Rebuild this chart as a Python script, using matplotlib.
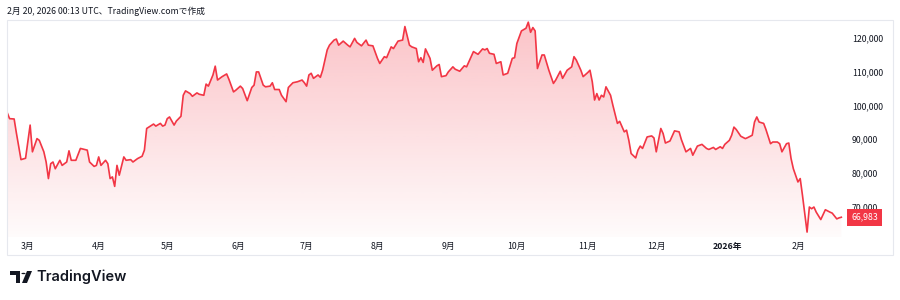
import numpy as np
import pandas as pd
import matplotlib
matplotlib.use('Agg')
import matplotlib.pyplot as plt
import matplotlib.dates as mdates
from matplotlib.patches import Rectangle, Circle, Polygon
from matplotlib.transforms import blended_transform_factory

plt.rcParams['font.family'] = ['Noto Sans CJK JP', 'DejaVu Sans']

# BTC/USD daily closes (USD)
dates = [
    '2025-02-20', '2025-02-21', '2025-02-23', '2025-02-24', '2025-02-26', '2025-02-28',
    '2025-03-02', '2025-03-03', '2025-03-05', '2025-03-06', '2025-03-08', '2025-03-09',
    '2025-03-10', '2025-03-11', '2025-03-12', '2025-03-13', '2025-03-15', '2025-03-16',
    '2025-03-18', '2025-03-19', '2025-03-20', '2025-03-22', '2025-03-24', '2025-03-27',
    '2025-03-28', '2025-03-30', '2025-03-31', '2025-04-01', '2025-04-02', '2025-04-04',
    '2025-04-05', '2025-04-06', '2025-04-07', '2025-04-08', '2025-04-09', '2025-04-10',
    '2025-04-12', '2025-04-13', '2025-04-15', '2025-04-16', '2025-04-18', '2025-04-20',
    '2025-04-21', '2025-04-22', '2025-04-25', '2025-04-26', '2025-04-28', '2025-04-29',
    '2025-04-30', '2025-05-01', '2025-05-02', '2025-05-04', '2025-05-05', '2025-05-07',
    '2025-05-08', '2025-05-09', '2025-05-11', '2025-05-12', '2025-05-14', '2025-05-15',
    '2025-05-17', '2025-05-18', '2025-05-19', '2025-05-21', '2025-05-22', '2025-05-23',
    '2025-05-25', '2025-05-27', '2025-05-28', '2025-05-30', '2025-05-31', '2025-06-02',
    '2025-06-03', '2025-06-05', '2025-06-07', '2025-06-08', '2025-06-09', '2025-06-10',
    '2025-06-12', '2025-06-13', '2025-06-15', '2025-06-16', '2025-06-17', '2025-06-19',
    '2025-06-20', '2025-06-22', '2025-06-23', '2025-06-25', '2025-06-27', '2025-06-29',
    '2025-06-30', '2025-07-01', '2025-07-02', '2025-07-03', '2025-07-04', '2025-07-06',
    '2025-07-07', '2025-07-08', '2025-07-10', '2025-07-11', '2025-07-13', '2025-07-14',
    '2025-07-15', '2025-07-17', '2025-07-19', '2025-07-20', '2025-07-22', '2025-07-23',
    '2025-07-25', '2025-07-27', '2025-07-28', '2025-07-30', '2025-08-01', '2025-08-02',
    '2025-08-04', '2025-08-05', '2025-08-07', '2025-08-08', '2025-08-10', '2025-08-12',
    '2025-08-13', '2025-08-15', '2025-08-16', '2025-08-18', '2025-08-19', '2025-08-20',
    '2025-08-21', '2025-08-22', '2025-08-24', '2025-08-25', '2025-08-27', '2025-08-28',
    '2025-08-29', '2025-08-31', '2025-09-01', '2025-09-03', '2025-09-04', '2025-09-06',
    '2025-09-08', '2025-09-09', '2025-09-11', '2025-09-12', '2025-09-14', '2025-09-16',
    '2025-09-17', '2025-09-18', '2025-09-19', '2025-09-21', '2025-09-22', '2025-09-24',
    '2025-09-25', '2025-09-27', '2025-09-29', '2025-09-30', '2025-10-01', '2025-10-03',
    '2025-10-05', '2025-10-06', '2025-10-07', '2025-10-08', '2025-10-09', '2025-10-10',
    '2025-10-12', '2025-10-13', '2025-10-15', '2025-10-17', '2025-10-18', '2025-10-20',
    '2025-10-21', '2025-10-23', '2025-10-25', '2025-10-26', '2025-10-27', '2025-10-29',
    '2025-10-30', '2025-11-01', '2025-11-02', '2025-11-03', '2025-11-04', '2025-11-05',
    '2025-11-06', '2025-11-07', '2025-11-08', '2025-11-09', '2025-11-11', '2025-11-12',
    '2025-11-14', '2025-11-15', '2025-11-17', '2025-11-18', '2025-11-19', '2025-11-20',
    '2025-11-22', '2025-11-23', '2025-11-24', '2025-11-25', '2025-11-27', '2025-11-29',
    '2025-11-30', '2025-12-01', '2025-12-03', '2025-12-04', '2025-12-05', '2025-12-07',
    '2025-12-09', '2025-12-11', '2025-12-12', '2025-12-14', '2025-12-16', '2025-12-17',
    '2025-12-19', '2025-12-21', '2025-12-23', '2025-12-24', '2025-12-26', '2025-12-27',
    '2025-12-29', '2025-12-30', '2025-12-31', '2026-01-02', '2026-01-03', '2026-01-04',
    '2026-01-05', '2026-01-07', '2026-01-09', '2026-01-10', '2026-01-12', '2026-01-13',
    '2026-01-14', '2026-01-15', '2026-01-17', '2026-01-18', '2026-01-20', '2026-01-21',
    '2026-01-23', '2026-01-24', '2026-01-25', '2026-01-27', '2026-01-28', '2026-01-29',
    '2026-01-30', '2026-02-01', '2026-02-02', '2026-02-03', '2026-02-05', '2026-02-06',
    '2026-02-07', '2026-02-08', '2026-02-09', '2026-02-11', '2026-02-13', '2026-02-15',
    '2026-02-16', '2026-02-18', '2026-02-19', '2026-02-20',
]
prices = [
    97800, 96100, 96000, 91800, 84000, 84400,
    94200, 86300, 90200, 89700, 86300, 83300,
    78400, 82800, 83300, 81300, 83800, 82300,
    83300, 86600, 83800, 83800, 87300, 86800,
    83300, 82000, 82300, 84800, 82300, 83800,
    82800, 78400, 78900, 76100, 82300, 79400,
    84800, 83800, 84000, 83300, 84300, 85000,
    86800, 93200, 94500, 93900, 94700, 93900,
    94200, 96100, 96600, 94200, 95400, 96800,
    103000, 104300, 103500, 102700, 103700, 103300,
    103000, 106300, 105700, 109000, 111600, 107500,
    108500, 109300, 107700, 104000, 104500, 105700,
    105000, 101400, 105300, 106000, 109900, 109900,
    106000, 105500, 105700, 106700, 104700, 104700,
    103000, 101100, 105300, 106700, 107000, 107500,
    106700, 105700, 109000, 109500, 108000, 109000,
    108300, 110400, 116400, 117800, 119300, 119600,
    117800, 119000, 117800, 117300, 119800, 118600,
    117600, 119300, 117800, 117600, 113900, 112400,
    114400, 114100, 117300, 116800, 119000, 119300,
    123300, 117800, 117300, 116800, 112900, 114100,
    112700, 116700, 113900, 110400, 111700, 112100,
    108500, 108800, 109900, 111400, 110700, 110100,
    111700, 111400, 114400, 115900, 115100, 116700,
    116400, 116800, 115400, 115100, 112400, 112900,
    109000, 109500, 113900, 114100, 118300, 122000,
    122800, 124600, 121600, 123000, 122000, 110900,
    114900, 114900, 110400, 106500, 107500, 110100,
    108000, 110400, 111400, 114400, 113400, 110400,
    108500, 109700, 110400, 107000, 101600, 103500,
    101600, 103000, 102500, 105500, 103000, 100100,
    94700, 95300, 92200, 92700, 89700, 85800,
    84500, 86800, 88000, 87300, 90700, 91000,
    90400, 86300, 93200, 91700, 88900, 89500,
    92500, 92200, 89900, 86300, 87300, 85300,
    88000, 88500, 87300, 87000, 87600, 87000,
    87800, 87300, 88500, 89700, 91200, 93600,
    92900, 90900, 90200, 90500, 91200, 95100,
    96600, 95100, 94700, 92900, 88700, 89200,
    89200, 88700, 86300, 88700, 88900, 84300,
    81300, 77400, 78400, 73400, 62600, 70000,
    69500, 70000, 68500, 66300, 69200, 68500,
    68200, 66500, 66800, 66983,
]
price_ticks = [70000, 80000, 90000, 100000, 110000, 120000]
month_starts = ['2025-03-01', '2025-04-01', '2025-05-01', '2025-06-01', '2025-07-01',
                '2025-08-01', '2025-09-01', '2025-10-01', '2025-11-01', '2025-12-01',
                '2026-01-01', '2026-02-01']
month_labels = ['3月', '4月', '5月', '6月', '7月', '8月', '9月', '10月', '11月', '12月',
                '2026年', '2月']
header = '2月 20, 2026 00:13 UTC、TradingView.comで作成'

x = pd.to_datetime(dates)
y = np.array(prices)
line_red = '#F23645'
text_col = '#131722'

W, H = 900, 300
fig = plt.figure(figsize=(9, 3), dpi=100)
fig.patch.set_facecolor('white')


def px(xp, yp):
    return xp / W, 1 - yp / H


ax = fig.add_axes([7 / W, 1 - 237 / H, 838 / W, 217 / H])
ax.set_facecolor('white')

start = pd.Timestamp(dates[0])
ax.set_xlim(mdates.date2num(start - pd.Timedelta(hours=3)),
            mdates.date2num(start + pd.Timedelta(days=366.6)))
ax.set_ylim(61150, 125230)

# gradient area
poly = ax.fill_between(x, y, 0, color='none', lw=0)
xl, yl = ax.get_xlim(), ax.get_ylim()
grad = np.zeros((256, 1, 4))
grad[:, 0, 0] = 242 / 255
grad[:, 0, 1] = 54 / 255
grad[:, 0, 2] = 69 / 255
grad[:, 0, 3] = np.linspace(0.30, 0.02, 256)
im = ax.imshow(grad, extent=[xl[0], xl[1], yl[0], yl[1]], origin='upper',
               aspect='auto', zorder=1, interpolation='bilinear')
im.set_clip_path(poly.get_paths()[0], transform=ax.transData)
ax.set_xlim(xl)
ax.set_ylim(yl)

ax.plot(x, y, color=line_red, lw=1.2, zorder=3, solid_joinstyle='round')

for s in ax.spines.values():
    s.set_visible(False)

ax.yaxis.tick_right()
ax.set_yticks(price_ticks)
ax.set_yticklabels([f'{v:,}' for v in price_ticks])
ax.tick_params(axis='y', length=0, pad=5, labelsize=6.3, labelcolor=text_col)

ax.set_xticks(mdates.date2num(pd.to_datetime(month_starts)))
ax.set_xticklabels(month_labels)
ax.tick_params(axis='x', length=0, pad=3.5, labelsize=6.3, labelcolor=text_col)
for lab in ax.get_xticklabels():
    if lab.get_text().endswith('年'):
        lab.set_fontweight('bold')

# last price label
tr = blended_transform_factory(ax.transAxes, ax.transData)
ax.text(1.0074, y[-1], f'{y[-1]:,}', transform=tr, ha='left', va='center',
        fontsize=6.3, color='white', clip_on=False, zorder=5,
        bbox=dict(boxstyle='square,pad=0.45', fc=line_red, ec='none'))

# outer frame
x0, y0 = px(7, 255)
fig.add_artist(Rectangle((x0, y0), 886 / W, 235 / H, transform=fig.transFigure,
                         fill=False, ec='#E6E8EE', lw=0.8))

fig.text(*px(7, 11.5), header, fontsize=6.3, color=text_col, ha='left', va='center')

# TradingView logo
logo_col = '#131722'
for pts in ([(10, 271), (20, 271), (20, 283), (16, 283), (16, 275), (10, 275)],
            [(27, 271), (32, 271), (27, 283), (22, 283)]):
    fig.add_artist(Polygon([px(a, b) for a, b in pts], closed=True,
                           transform=fig.transFigure, fc=logo_col, ec='none'))
fig.add_artist(Circle(px(23.5, 273.5), 2.1 / W, transform=fig.transFigure,
                      fc=logo_col, ec='none'))
fig.text(*px(36, 277), 'TradingView', fontsize=10.5, fontweight='semibold',
         family=['Inter', 'DejaVu Sans'], color=logo_col, ha='left', va='center')

fig.savefig('out.png', dpi=100, facecolor='white')
